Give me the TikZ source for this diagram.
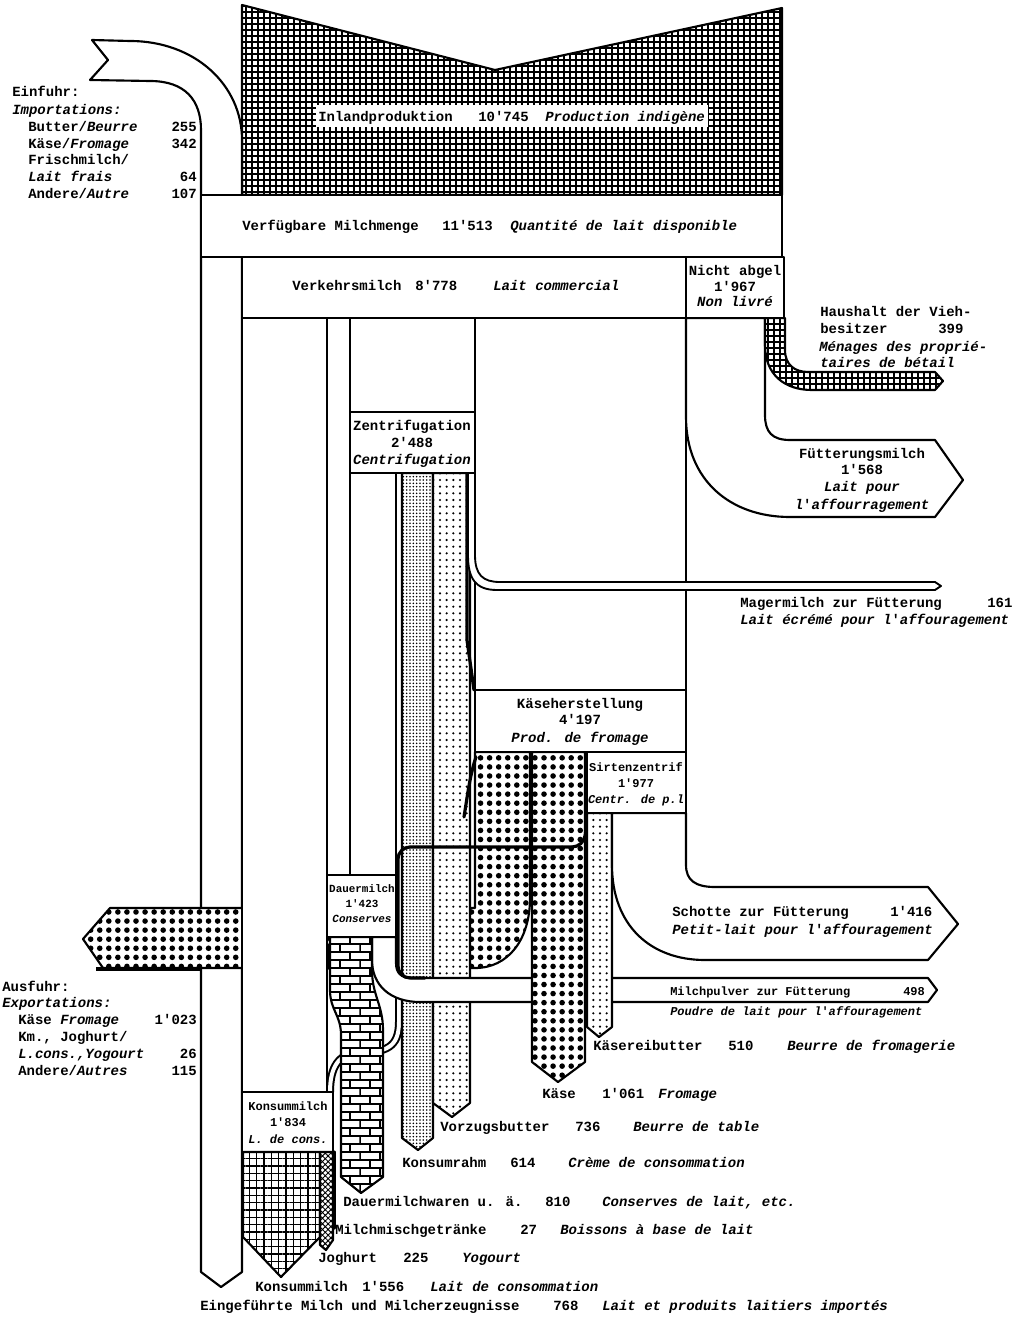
\documentclass[tikz,border=0pt]{standalone}
\usepackage{fontspec}
\setmainfont{Liberation Mono}
\newfontface\quotefont{Liberation Mono Bold}
\usetikzlibrary{patterns,patterns.meta}
\pgfdeclarepatternformonly{milkbricks}{\pgfqpoint{-0.5pt}{-0.5pt}}{\pgfqpoint{30.5pt}{12.5pt}}{\pgfqpoint{30pt}{12pt}}{%
  \pgfsetlinewidth{1.1pt}%
  \pgfpathmoveto{\pgfqpoint{0pt}{0pt}}\pgfpathlineto{\pgfqpoint{30pt}{0pt}}%
  \pgfpathmoveto{\pgfqpoint{0pt}{6pt}}\pgfpathlineto{\pgfqpoint{30pt}{6pt}}%
  \pgfpathmoveto{\pgfqpoint{0pt}{0pt}}\pgfpathlineto{\pgfqpoint{0pt}{6pt}}%
  \pgfpathmoveto{\pgfqpoint{15pt}{0pt}}\pgfpathlineto{\pgfqpoint{15pt}{6pt}}%
  \pgfpathmoveto{\pgfqpoint{7.5pt}{6pt}}\pgfpathlineto{\pgfqpoint{7.5pt}{12pt}}%
  \pgfpathmoveto{\pgfqpoint{22.5pt}{6pt}}\pgfpathlineto{\pgfqpoint{22.5pt}{12pt}}%
  \pgfusepath{stroke}}
\newcommand\fs{\fontsize{10.5}{12.75}\selectfont\bfseries}
\newcommand\fsm{\fontsize{9}{11.5}\selectfont\bfseries}
\newcommand\fsd{\fontsize{8.2}{11}\selectfont\bfseries}
\newcommand\ap{{\quotefont'}}
\tikzset{
  ol/.style={draw=black, line width=1.6pt, line join=round},
  wf/.style={ol, fill=white},
  gridpat/.style={preaction={fill=white}, pattern={Hatch[angle=0,distance=4.5pt,line width=1.35pt]}},
  gridpatb/.style={preaction={fill=white}, pattern={Hatch[angle=0,distance=5.5pt,line width=1.2pt]}},
  bigdots/.style={preaction={fill=white}, pattern={Dots[radius=2.1pt,distance=6.8pt]}},
  coarsedots/.style={preaction={fill=white}, pattern={Dots[radius=0.9pt,distance=5pt]}},
  finedots/.style={preaction={fill=white}, pattern={Dots[radius=0.65pt,distance=2.5pt]}},
  crosspat/.style={preaction={fill=white}, pattern={Hatch[angle=45,distance=3pt,line width=0.7pt]}},
  brickpat/.style={preaction={fill=white}, pattern=milkbricks},
  thinflow/.style={line width=2.4pt, line cap=round, line join=round},
  tx/.style={font=\fs, inner sep=0pt, anchor=base west},
  ti/.style={font=\fs\itshape, inner sep=0pt, anchor=base west},
  tr/.style={font=\fs, inner sep=0pt, anchor=base east},
  ct/.style={font=\fs, inner sep=0pt, anchor=base},
  cti/.style={font=\fs\itshape, inner sep=0pt, anchor=base},
}
\begin{document}
\begin{tikzpicture}[x=0.75pt,y=-0.75pt]
\useasboundingbox (0,0) rectangle (1025,1320);
\fill[white] (0,0) rectangle (1025,1320);

% domestic production
\draw[ol, gridpat] (242,5) -- (495,70) -- (782,8) -- (782,195) -- (242,195) -- cycle;
\fill[white] (316,105) rectangle (708,127);

% import arrow and column
\draw[wf] (92,40) -- (130,41) .. controls (195,41) and (242,85) .. (242,140) -- (242,1272) -- (221,1287) -- (201,1272) -- (201,130) .. controls (201,100) and (185,81) .. (150,81) -- (90,80) -- (108,60) -- cycle;

% cheese export band
\draw[ol, bigdots] (475,752) -- (530,752) -- (530,898) .. controls (530,940) and (508,968) .. (475,968) -- (103,968) -- (83,939) -- (110,908) -- (475,908) -- cycle;
\draw[line width=2.6pt] (96,969) -- (201,969);

% columns below Verkehrsmilch
\draw[wf] (242,318) rectangle (327,1092);
\draw[wf] (327,318) rectangle (350,875);
\draw[wf] (350,318) rectangle (475,412);
\draw[wf] (350,473) rectangle (396,875);
\draw[line width=6pt] (399,473) -- (399,1022) .. controls (399,1048) and (385,1052) .. (362,1052) .. controls (338,1052) and (330,1068) .. (330,1092);
\draw[white, line width=3pt] (399,473) -- (399,1022) .. controls (399,1048) and (385,1052) .. (362,1052) .. controls (338,1052) and (330,1068) .. (330,1092);
\draw[ol, finedots] (402,473) -- (433,473) -- (433,1138) -- (418,1150) -- (402,1138) -- cycle;
\draw[ol, coarsedots] (433,473) -- (470,473) -- (470,1103) -- (452,1117) -- (433,1103) -- cycle;

% cheese column above Kaeseherstellung
\draw[wf] (475,318) rectangle (686,690);

% skim milk for feeding
\draw[wf, line width=1.4pt] (475,473) -- (475,555) .. controls (475,575) and (483,582) .. (500,582) -- (935,582) -- (941,586) -- (935,590) -- (497,590) .. controls (475,590) and (468,578) .. (468,555) -- (468,473) -- cycle;
\draw[thinflow] (467,473) -- (467,640) -- (474,690);

% milk powder band
\draw[wf] (396,937) -- (396,963) .. controls (396,973) and (401,978) .. (412,978) -- (928,978) -- (937,990) -- (928,1002) -- (420,1002) .. controls (390,1002) and (372,985) .. (372,960) -- (372,937) -- cycle;

% durable milk products (bricks)
\draw[ol, brickpat] (330,937) -- (330,990) .. controls (330,1010) and (341,1015) .. (341,1035) -- (341,1177) -- (361,1193) -- (383,1177) -- (383,1030) .. controls (383,1005) and (372,995) .. (372,970) -- (372,937) -- cycle;
\draw[thinflow] (328,945) -- (328,968);

% cheese and cheese-dairy butter
\draw[ol, bigdots] (532,752) -- (585,752) -- (585,1062) -- (558,1082) -- (532,1062) -- cycle;
\draw[ol, coarsedots] (587,813) -- (612,813) -- (612,1027) -- (599,1037) -- (587,1027) -- cycle;

% thin flows
\draw[thinflow, rounded corners=9pt] (586,828) -- (584,847) -- (398,847) -- (398,978) -- (425,978);
\draw[thinflow] (476,757) .. controls (470,775) and (468,792) .. (464,817);

% right side flows
\draw[wf] (686,318) -- (686,417) .. controls (686,480) and (730,517) .. (790,517) -- (935,517) -- (963,480) -- (935,440) -- (790,440) .. controls (772,440) and (765,432) .. (765,415) -- (765,318) -- cycle;
\draw[ol, gridpat] (765,318) -- (765,345) .. controls (765,375) and (785,390) .. (812,390) -- (935,390) -- (943,381) -- (935,372) -- (808,372) .. controls (795,372) and (785,365) .. (785,350) -- (785,318) -- cycle;
\draw[wf] (612,813) -- (612,865) .. controls (612,925) and (650,960) .. (705,960) -- (928,960) -- (958,924) -- (928,887) -- (715,887) .. controls (695,887) and (686,880) .. (686,865) -- (686,813) -- cycle;

% boxes
\draw[wf] (201,195) rectangle (782,257);
\draw[wf] (242,257) rectangle (686,318);
\draw[wf] (686,257) rectangle (784,318);
\draw[wf] (350,412) rectangle (475,473);
\draw[wf] (475,690) rectangle (686,752);
\draw[wf] (587,752) rectangle (686,813);
\draw[wf] (327,875) rectangle (396,937);
\draw[wf] (242,1092) rectangle (333,1152);

% consumption milk outputs
\draw[ol, gridpatb] (243,1152) -- (320,1152) -- (320,1237) -- (281,1277) -- (243,1237) -- cycle;
\draw[ol, crosspat] (320,1152) -- (333,1152) -- (333,1240) -- (326,1250) -- (320,1245) -- cycle;
\draw[thinflow] (334,1152) -- (334,1228);

% ---- texts ----
\node[tx] (imp1) at (12,96) {Einfuhr:};
\node[ti] (imp2) at (12,114) {Importations:};
\node[tx] (imp3) at (28,131) {Butter/\textit{Beurre}};
\node[tr] (imp3n) at (197,131) {255};
\node[tx] (imp4) at (28,148) {Käse/\textit{Fromage}};
\node[tr] (imp4n) at (197,148) {342};
\node[tx] (imp5) at (28,164) {Frischmilch/};
\node[ti] (imp6) at (28,181) {Lait frais};
\node[tr] (imp6n) at (197,181) {64};
\node[tx] (imp7) at (28,198) {Andere/\textit{Autre}};
\node[tr] (imp7n) at (197,198) {107};

\node[tx] (exp1) at (2,991) {Ausfuhr:};
\node[ti] (exp2) at (2,1007) {Exportations:};
\node[tx] (exp3) at (18,1024) {Käse \textit{Fromage}};
\node[tr] (exp3n) at (197,1024) {1\ap023};
\node[tx] (exp4) at (18,1041) {Km., Joghurt/};
\node[ti] (exp5) at (18,1058) {L.cons.,Yogourt};
\node[tr] (exp5n) at (197,1058) {26};
\node[tx] (exp6) at (18,1075) {Andere/\textit{Autres}};
\node[tr] (exp6n) at (197,1075) {115};

\node[tx] (inl1) at (318,121) {Inlandproduktion};
\node[tx] (inl2) at (478,121) {10\ap745};
\node[ti] (inl3) at (545,121) {Production indigène};

\node[tx] (ver1) at (242,230) {Verfügbare Milchmenge};
\node[tx] (ver2) at (442,230) {11\ap513};
\node[ti] (ver3) at (510,230) {Quantité de lait disponible};

\node[tx] (vk1) at (292,290) {Verkehrsmilch};
\node[tx] (vk2) at (415,290) {8\ap778};
\node[ti] (vk3) at (493,290) {Lait commercial};

\node[ct] (na1) at (735,275) {Nicht abgel};
\node[ct] (na2) at (735,291) {1\ap967};
\node[cti] (na3) at (735,306) {Non livré};

\node[ct] (ze1) at (412,430) {Zentrifugation};
\node[ct] (ze2) at (412,447) {2\ap488};
\node[cti] (ze3) at (412,464) {Centrifugation};

\node[ct] (kh1) at (580,708) {Käseherstellung};
\node[ct] (kh2) at (580,724) {4\ap197};
\node[cti] (kh3) at (580,742) {Prod. de fromage};

\node[ct, font=\fsm] (sz1) at (636,771) {Sirtenzentrif};
\node[ct, font=\fsm] (sz2) at (636,787) {1\ap977};
\node[cti, font=\fsm\itshape] (sz3) at (636,803) {Centr. de p.l};

\node[ct, font=\fsd] (dm1) at (362,892) {Dauermilch};
\node[ct, font=\fsd] (dm2) at (362,907) {1\ap423};
\node[cti, font=\fsd\itshape] (dm3) at (362,922) {Conserves};

\node[ct, font=\fsm] (km1) at (288,1110) {Konsummilch};
\node[ct, font=\fsm] (km2) at (288,1126) {1\ap834};
\node[cti, font=\fsm\itshape] (km3) at (288,1143) {L. de cons.};

\node[tx] (hh1) at (820,316) {Haushalt der Vieh-};
\node[tx] (hh2) at (820,333) {besitzer};
\node[tx] (hh3) at (938,333) {399};
\node[ti] (hh4) at (819,351) {Ménages des proprié-};
\node[ti] (hh5) at (820,367) {taires de bétail};

\node[ct] (fm1) at (862,458) {Fütterungsmilch};
\node[ct] (fm2) at (862,474) {1\ap568};
\node[cti] (fm3) at (862,491) {Lait pour};
\node[cti] (fm4) at (862,509) {l\ap affourragement};

\node[tx] (mg1) at (740,607) {Magermilch zur Fütterung};
\node[tx] (mg2) at (987,607) {161};
\node[ti] (mg3) at (740,624) {Lait écrémé pour l\ap affouragement};

\node[tx] (sc1) at (672,916) {Schotte zur Fütterung};
\node[tx] (sc2) at (890,916) {1\ap416};
\node[ti] (sc3) at (672,934) {Petit-lait pour l\ap affouragement};

\node[tx, font=\fsm] (mp1) at (670,995) {Milchpulver zur Fütterung};
\node[tx, font=\fsm] (mp2) at (903,995) {498};
\node[ti, font=\fsm\itshape] (mp3) at (670,1015) {Poudre de lait pour l\ap affouragement};

\node[tx] (kb1) at (593,1050) {Käsereibutter};
\node[tx] (kb2) at (728,1050) {510};
\node[ti] (kb3) at (787,1050) {Beurre de fromagerie};

\node[tx] (ks1) at (542,1098) {Käse};
\node[tx] (ks2) at (602,1098) {1\ap061};
\node[ti] (ks3) at (658,1098) {Fromage};

\node[tx] (vb1) at (440,1131) {Vorzugsbutter};
\node[tx] (vb2) at (575,1131) {736};
\node[ti] (vb3) at (633,1131) {Beurre de table};

\node[tx] (kr1) at (402,1167) {Konsumrahm};
\node[tx] (kr2) at (510,1167) {614};
\node[ti] (kr3) at (568,1167) {Crème de consommation};

\node[tx] (dw1) at (343,1206) {Dauermilchwaren u. ä.};
\node[tx] (dw2) at (545,1206) {810};
\node[ti] (dw3) at (602,1206) {Conserves de lait, etc.};

\node[tx] (mm1) at (335,1234) {Milchmischgetränke};
\node[tx] (mm2) at (520,1234) {27};
\node[ti] (mm3) at (560,1234) {Boissons à base de lait};

\node[tx] (jo1) at (318,1262) {Joghurt};
\node[tx] (jo2) at (403,1262) {225};
\node[ti] (jo3) at (462,1262) {Yogourt};

\node[tx] (kc1) at (255,1291) {Konsummilch};
\node[tx] (kc2) at (362,1291) {1\ap556};
\node[ti] (kc3) at (430,1291) {Lait de consommation};

\node[tx] (ei1) at (200,1310) {Eingeführte Milch und Milcherzeugnisse};
\node[tx] (ei2) at (553,1310) {768};
\node[ti] (ei3) at (602,1310) {Lait et produits laitiers importés};
\end{tikzpicture}
\end{document}
